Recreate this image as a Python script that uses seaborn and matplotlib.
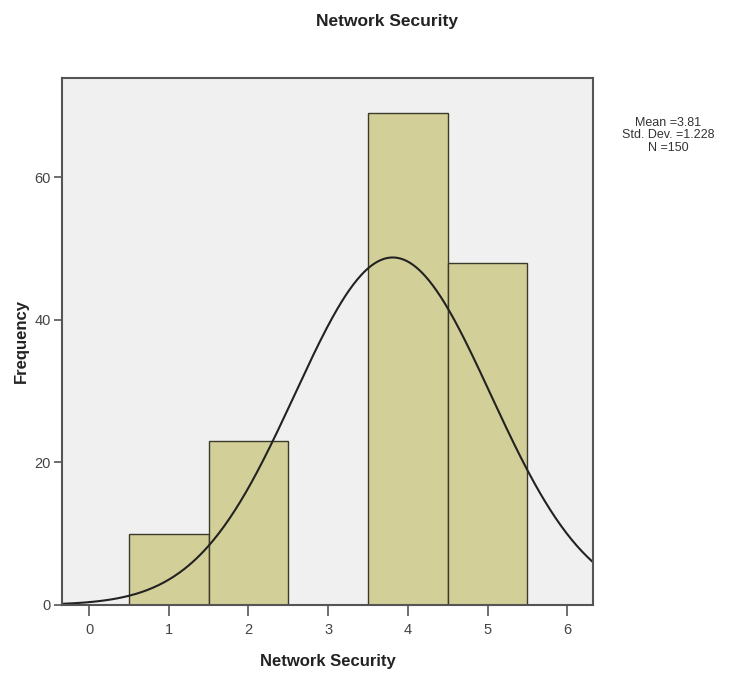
import numpy as np
import pandas as pd
import matplotlib
matplotlib.use("Agg")
import matplotlib.pyplot as plt
import seaborn as sns

# Data
scores = [1, 2, 3, 4, 5]
counts = [10, 23, 0, 69, 48]
mean_val = 3.81
std_val = 1.228
n_val = 150
x_ticks = [0, 1, 2, 3, 4, 5, 6]
y_ticks = [0, 20, 40, 60]

sns.set_style("white")
plt.rcParams['font.family'] = ['Liberation Sans', 'DejaVu Sans']

fig = plt.figure(figsize=(7.4, 6.77), dpi=100)
ax = fig.add_axes([0.0838, 0.1064, 0.7172, 0.7784])
ax.set_facecolor("#f0f0f0")

df = pd.DataFrame({"score": scores, "count": counts})
sns.histplot(data=df, x="score", weights="count", discrete=True,
             color="#d3cf98", alpha=1, edgecolor="#3a3a2a", linewidth=1.0, ax=ax)

# Fitted normal curve
xs = np.linspace(-0.34, 6.32, 400)
ys = n_val * np.exp(-0.5 * ((xs - mean_val) / std_val) ** 2) / (std_val * np.sqrt(2 * np.pi))
sns.lineplot(x=xs, y=ys, color="#222222", linewidth=1.5, ax=ax)

ax.set_xlim(-0.34, 6.32)
ax.set_ylim(0, 73.9)
ax.set_xticks(x_ticks)
ax.set_yticks(y_ticks)
ax.tick_params(axis="both", which="both", length=6, width=1.2, color="#555555",
               labelsize=10.5, labelcolor="#444444", direction="out", pad=2)
ax.tick_params(axis="x", bottom=True, length=8, pad=5)
ax.tick_params(axis="y", left=True)
for sp in ax.spines.values():
    sp.set_color("#555555")
    sp.set_linewidth(1.5)

ax.set_xlabel("Network Security", fontsize=12, fontweight="bold", color="#222222", labelpad=12)
ax.set_ylabel("Frequency", fontsize=12, fontweight="bold", color="#222222", labelpad=4)
fig.text(0.523, 0.968, "Network Security", ha="center", va="center",
         fontsize=12.5, fontweight="bold", color="#222222")
fig.text(0.903, 0.80, "Mean =3.81\nStd. Dev. =1.228\nN =150", ha="center", va="center",
         fontsize=9, color="#333333", linespacing=1.1)

fig.savefig("out.png", dpi=100, facecolor="white")
